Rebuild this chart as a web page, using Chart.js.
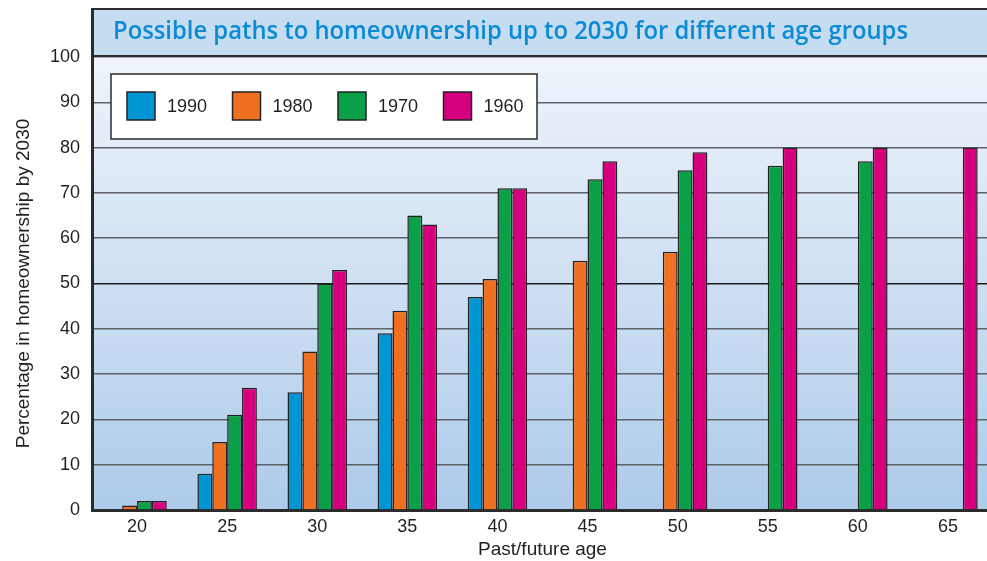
<!DOCTYPE html>
<html>
<head>
<meta charset="utf-8">
<script src="https://cdn.jsdelivr.net/npm/chart.js@4/dist/chart.umd.min.js"></script>
<style>
    html, body { margin: 0; padding: 0; background: #ffffff; overflow: hidden; }
    #wrap { position: relative; width: 993px; height: 561px; }
</style>
</head>
<body>
<div id="wrap"><canvas id="homeChart"></canvas></div>
<script>
// Chart data
const ages = ['20', '25', '30', '35', '40', '45', '50', '55', '60', '65'];
const cohort1990 = [null, 8, 26, 39, 47, null, null, null, null, null];
const cohort1980 = [1, 15, 35, 44, 51, 55, 57, null, null, null];
const cohort1970 = [2, 21, 50, 65, 71, 73, 75, 76, 77, null];
const cohort1960 = [2, 27, 53, 63, 71, 77, 79, 80, 80, 80];
const cohortLabels = ['1990', '1980', '1970', '1960'];
const cohortColors = ['#0096d6', '#f07022', '#0aa048', '#d6007e'];
const yTicks = [0, 10, 20, 30, 40, 50, 60, 70, 80, 90, 100];

const chartTitle = 'Possible paths to homeownership up to 2030 for different age groups';
const tickFont = { family: '"Liberation Sans", Arial, sans-serif', size: 18 };
const axisTitleFont = { family: '"Liberation Sans", Arial, sans-serif', size: 19 };

/**
 * Background, title band, frame and legend box
 */
const framePlugin = {
    id: 'frame',
    beforeDraw: function(chart) {
        const ctx = chart.ctx;
        const area = chart.chartArea;
        const right = chart.width;
        ctx.save();
        // plot gradient
        const grad = ctx.createLinearGradient(0, area.top, 0, area.bottom);
        grad.addColorStop(0, '#eff4fb');
        grad.addColorStop(1, '#adcbea');
        ctx.fillStyle = grad;
        ctx.fillRect(area.left, area.top, right - area.left, area.bottom - area.top);
        // title band
        ctx.fillStyle = '#c6dcf1';
        ctx.fillRect(area.left, 8, right - area.left, area.top - 8);
        ctx.restore();
    },
    afterDraw: function(chart) {
        const ctx = chart.ctx;
        const area = chart.chartArea;
        const right = chart.width;
        ctx.save();

        // frame lines
        ctx.strokeStyle = '#2b2b2b';
        ctx.lineWidth = 2;
        ctx.beginPath();
        ctx.moveTo(area.left, 9);
        ctx.lineTo(right, 9);
        ctx.moveTo(area.left, area.top - 1);
        ctx.lineTo(right, area.top - 1);
        ctx.stroke();
        ctx.lineWidth = 3;
        ctx.beginPath();
        ctx.moveTo(area.left + 0.5, 8);
        ctx.lineTo(area.left + 0.5, area.top);
        ctx.stroke();

        // title text, fitted to the band width
        ctx.font = '600 25px "Open Sans", "Noto Sans", sans-serif';
        ctx.fillStyle = '#0a8bd3';
        ctx.textBaseline = 'alphabetic';
        const w = ctx.measureText(chartTitle).width;
        ctx.save();
        ctx.translate(113, 39);
        ctx.scale(795 / w, 1);
        ctx.fillText(chartTitle, 0, 0);
        ctx.restore();

        // legend box
        const box = { x: 111, y: 74, w: 426, h: 65 };
        ctx.fillStyle = '#ffffff';
        ctx.fillRect(box.x, box.y, box.w, box.h);
        ctx.strokeStyle = '#2b2b2b';
        ctx.lineWidth = 1.5;
        ctx.strokeRect(box.x, box.y, box.w, box.h);

        ctx.font = '18px "Liberation Sans", Arial, sans-serif';
        ctx.textBaseline = 'middle';
        chart.data.datasets.forEach(function(ds, i) {
            const sx = 127 + i * 105.5;
            ctx.fillStyle = ds.backgroundColor;
            ctx.fillRect(sx, 92, 28, 28);
            ctx.lineWidth = 1.5;
            ctx.strokeStyle = '#222222';
            ctx.strokeRect(sx, 92, 28, 28);
            ctx.fillStyle = '#231f20';
            ctx.fillText(ds.label, sx + 40, 107);
        });
        ctx.restore();
    }
};

const datasets = [cohort1990, cohort1980, cohort1970, cohort1960].map(function(values, i) {
    return {
        label: cohortLabels[i],
        data: values,
        backgroundColor: cohortColors[i],
        borderColor: '#222222',
        borderWidth: 1.5,
        borderSkipped: 'bottom'
    };
});

const ctx = document.getElementById('homeChart').getContext('2d');
const homeChart = new Chart(ctx, {
    type: 'bar',
    data: {
        labels: ages,
        datasets: datasets
    },
    options: {
        responsive: true,
        maintainAspectRatio: false,
        animation: false,
        barPercentage: 1,
        categoryPercentage: 0.66,
        layout: { padding: { top: 57, left: 0, right: 0, bottom: 0 } },
        plugins: {
            legend: { display: false },
            tooltip: { enabled: false }
        },
        scales: {
            x: {
                afterFit: function(scale) { scale.height = 51; },
                grid: { display: false, drawTicks: false },
                border: { display: true, color: '#2b2b2b', width: 3 },
                ticks: { font: tickFont, color: '#231f20', padding: 6 },
                title: {
                    display: true,
                    text: 'Past/future age',
                    font: axisTitleFont,
                    color: '#231f20',
                    padding: { top: 2, bottom: 0 }
                }
            },
            y: {
                min: 0,
                max: 100,
                afterFit: function(scale) { scale.width = 92; },
                afterBuildTicks: function(scale) {
                    scale.ticks = yTicks.map(function(v) { return { value: v }; });
                },
                grid: {
                    drawTicks: false,
                    lineWidth: 1.5,
                    color: function(c) {
                        return c.tick && c.tick.value === 50 ? '#1a1a1a' : '#5d6268';
                    }
                },
                border: { display: true, color: '#2b2b2b', width: 3 },
                ticks: { font: tickFont, color: '#231f20', padding: 12 },
                title: {
                    display: true,
                    text: 'Percentage in homeownership by 2030',
                    font: axisTitleFont,
                    color: '#231f20',
                    padding: { top: 12, bottom: 0 }
                }
            }
        }
    },
    plugins: [framePlugin]
});
</script>
</body>
</html>
